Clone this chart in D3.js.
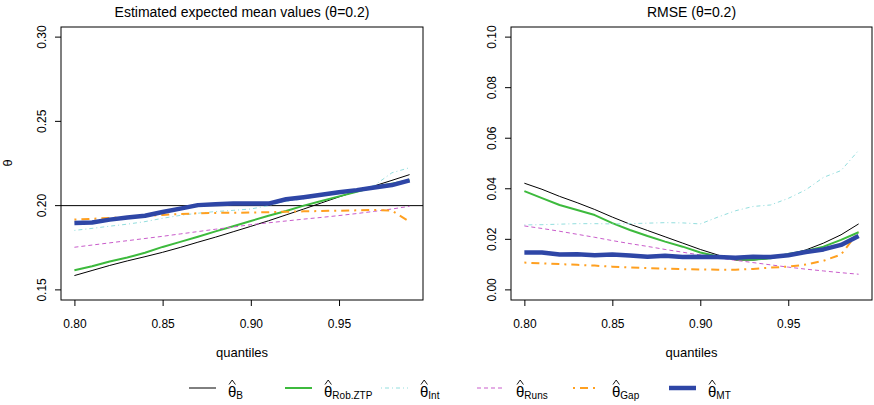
<!DOCTYPE html>
<html>
<head>
<meta charset="utf-8">
<script src="https://cdn.jsdelivr.net/npm/d3@7"></script>
<style>
	body { margin: 0; background: #fff; }
	text { font-family: "Liberation Sans", Arial, Helvetica, sans-serif; fill: #000; }
</style>
</head>
<body>
<div id="chart"></div>
<script>

var quantiles = [0.80, 0.81, 0.82, 0.83, 0.84, 0.85, 0.86, 0.87, 0.88, 0.89,
	0.90, 0.91, 0.92, 0.93, 0.94, 0.95, 0.96, 0.97, 0.98, 0.99];

var xTicks = [0.80, 0.85, 0.90, 0.95];
var meanTicks = [0.15, 0.20, 0.25, 0.30];
var rmseTicks = [0.00, 0.02, 0.04, 0.06, 0.08, 0.10];

// estimated expected mean values
var meanB = [0.1585, 0.1615, 0.1645, 0.1672, 0.1697, 0.1723, 0.1752, 0.1783, 0.1813, 0.1845,
	0.1877, 0.1910, 0.1945, 0.1980, 0.2016, 0.2052, 0.2085, 0.2117, 0.2150, 0.2184];
var meanRob = [0.1616, 0.1640, 0.1668, 0.1692, 0.1720, 0.1755, 0.1785, 0.1815, 0.1847, 0.1878,
	0.1909, 0.1940, 0.1968, 0.2000, 0.2028, 0.2055, 0.2082, 0.2110, 0.2130, 0.2150];
var meanInt = [0.1853, 0.1865, 0.1878, 0.1890, 0.1905, 0.1925, 0.1942, 0.1955, 0.1965, 0.1972,
	0.1980, 0.2000, 0.2025, 0.2040, 0.2058, 0.2072, 0.2090, 0.2120, 0.2195, 0.2225];
var meanRuns = [0.1753, 0.1766, 0.1779, 0.1792, 0.1805, 0.1818, 0.1832, 0.1846, 0.1860, 0.1873,
	0.1887, 0.1898, 0.1909, 0.1920, 0.1930, 0.1941, 0.1953, 0.1966, 0.1980, 0.1996];
var meanGap = [0.1917, 0.1922, 0.1927, 0.1932, 0.1938, 0.1945, 0.1950, 0.1955, 0.1957, 0.1958,
	0.1959, 0.1961, 0.1964, 0.1966, 0.1968, 0.1970, 0.1972, 0.1974, 0.1970, 0.1905];
var meanMT = [0.1897, 0.1900, 0.1917, 0.1930, 0.1940, 0.1962, 0.1982, 0.2003, 0.2008, 0.2012,
	0.2013, 0.2012, 0.2038, 0.2050, 0.2064, 0.2079, 0.2092, 0.2108, 0.2122, 0.2150];

// RMSE
var rmseB = [0.0422, 0.0398, 0.0370, 0.0345, 0.0318, 0.0288, 0.0260, 0.0235, 0.0210, 0.0185,
	0.0160, 0.0138, 0.0118, 0.0118, 0.0125, 0.0140, 0.0158, 0.0185, 0.0218, 0.0261];
var rmseRob = [0.0391, 0.0363, 0.0336, 0.0316, 0.0296, 0.0264, 0.0237, 0.0213, 0.0191, 0.0171,
	0.0148, 0.0132, 0.0121, 0.0119, 0.0125, 0.0142, 0.0154, 0.0171, 0.0198, 0.0228];
var rmseInt = [0.0257, 0.0258, 0.0260, 0.0262, 0.0262, 0.0261, 0.0262, 0.0264, 0.0266, 0.0265,
	0.0261, 0.0288, 0.0313, 0.0330, 0.0336, 0.0362, 0.0396, 0.0445, 0.0472, 0.0552];
var rmseRuns = [0.0253, 0.0243, 0.0232, 0.0220, 0.0208, 0.0195, 0.0183, 0.0172, 0.0160, 0.0149,
	0.0138, 0.0127, 0.0117, 0.0108, 0.0099, 0.0090, 0.0082, 0.0075, 0.0068, 0.0062];
var rmseGap = [0.0108, 0.0105, 0.0102, 0.0099, 0.0096, 0.0092, 0.0089, 0.0086, 0.0084, 0.0082,
	0.0081, 0.0080, 0.0080, 0.0083, 0.0088, 0.0092, 0.0100, 0.0115, 0.0140, 0.0230];
var rmseMT = [0.0148, 0.0148, 0.0140, 0.0141, 0.0137, 0.0140, 0.0136, 0.0131, 0.0135, 0.0130,
	0.0131, 0.0130, 0.0127, 0.0131, 0.0130, 0.0137, 0.0150, 0.0160, 0.0178, 0.0213];

var seriesNames = ["B", "Rob.ZTP", "Int", "Runs", "Gap", "MT"];

// line styles, in the same order as seriesNames
var styles = [
	{ color: "#000000", width: 1, dash: null },
	{ color: "#3dba3d", width: 2, dash: null },
	{ color: "#93dede", width: 1, dash: "1,3,4,3" },
	{ color: "#c95ccb", width: 1, dash: "4,3" },
	{ color: "#ffa020", width: 2, dash: "2,5,8,5" },
	{ color: "#2e46a6", width: 4.5, dash: null }
];

var width = 874, height = 405;

var svg = d3.select("#chart")
	.append("svg")
		.attr("width", width)
		.attr("height", height);

function drawPanel(opts) {
	var x = d3.scaleLinear().domain([0.7924, 0.9976]).range([opts.left, opts.right]);
	var y = d3.scaleLinear().domain(opts.yDomain).range([300, 27]);

	var g = svg.append("g");

	var clipId = "clip" + opts.left;
	g.append("clipPath").attr("id", clipId)
		.append("rect")
			.attr("x", opts.left).attr("y", 27)
			.attr("width", opts.right - opts.left).attr("height", 273);

	var xAxis = g.append("g")
		.attr("transform", "translate(0,300)")
		.call(d3.axisBottom(x).tickValues(xTicks).tickFormat(d3.format(".2f")).tickSize(6).tickSizeOuter(0));
	xAxis.select(".domain").remove();
	xAxis.selectAll("text").attr("font-size", 12).attr("dy", "1.55em")
		.style("font-family", "'Liberation Sans', Arial, sans-serif");

	var yAxis = g.append("g")
		.attr("transform", "translate(" + opts.left + ",0)")
		.call(d3.axisLeft(y).tickValues(opts.yTicks).tickFormat(d3.format(".2f")).tickSize(6).tickSizeOuter(0));
	yAxis.select(".domain").remove();
	yAxis.selectAll("text")
		.attr("font-size", 12)
		.attr("x", 0).attr("dy", 0)
		.attr("text-anchor", "middle")
		.attr("transform", d => "translate(-15," + y(d) + ") rotate(-90)")
		.attr("y", 0)
		.style("font-family", "'Liberation Sans', Arial, sans-serif");
	yAxis.selectAll(".tick").attr("transform", null);
	yAxis.selectAll(".tick line").attr("transform", d => "translate(0," + y(d) + ")");

	if (opts.refLine != null) {
		g.append("line")
			.attr("x1", opts.left).attr("x2", opts.right)
			.attr("y1", y(opts.refLine)).attr("y2", y(opts.refLine))
			.attr("stroke", "black").attr("stroke-width", 1);
	}

	var line = d3.line()
		.x((d, i) => x(quantiles[i]))
		.y(d => y(d));

	g.append("g")
		.attr("clip-path", "url(#" + clipId + ")")
		.selectAll("path")
		.data(opts.series)
		.enter()
			.append("path")
			.attr("d", d => line(d))
			.attr("fill", "none")
			.attr("stroke", (d, i) => styles[i].color)
			.attr("stroke-width", (d, i) => styles[i].width)
			.attr("stroke-dasharray", (d, i) => styles[i].dash)
			.attr("stroke-linejoin", "round");

	g.append("rect")
		.attr("x", opts.left).attr("y", 27)
		.attr("width", opts.right - opts.left).attr("height", 273)
		.attr("fill", "none").attr("stroke", "black").attr("stroke-width", 1);

	g.append("text")
		.attr("x", (opts.left + opts.right) / 2).attr("y", 17)
		.attr("text-anchor", "middle").attr("font-size", 14)
		.text(opts.title);

	g.append("text")
		.attr("x", (opts.left + opts.right) / 2).attr("y", 357)
		.attr("text-anchor", "middle").attr("font-size", 13)
		.text("quantiles");
}

drawPanel({
	left: 61, right: 423,
	yDomain: [0.144, 0.306],
	yTicks: meanTicks,
	refLine: 0.20,
	title: "Estimated expected mean values (\u03b8=0.2)",
	series: [meanB, meanRob, meanInt, meanRuns, meanGap, meanMT]
});

drawPanel({
	left: 511, right: 872,
	yDomain: [-0.004, 0.104],
	yTicks: rmseTicks,
	refLine: null,
	title: "RMSE (\u03b8=0.2)",
	series: [rmseB, rmseRob, rmseInt, rmseRuns, rmseGap, rmseMT]
});

// y axis title
svg.append("text")
	.attr("transform", "translate(12,163) rotate(-90)")
	.attr("text-anchor", "middle").attr("font-size", 13)
	.text("\u03b8");

// legend
var legend = svg.append("g");
var legendX = d3.scalePoint().domain(seriesNames).range([189, 669]);

var items = legend.selectAll("g")
	.data(seriesNames)
	.enter()
		.append("g")
		.attr("transform", d => "translate(" + legendX(d) + ",388)");

items.append("line")
	.attr("x1", 0).attr("x2", 27)
	.attr("y1", 0).attr("y2", 0)
	.attr("stroke", (d, i) => styles[i].color)
	.attr("stroke-width", (d, i) => styles[i].width)
	.attr("stroke-dasharray", (d, i) => styles[i].dash);

// the hat over theta
items.append("path")
	.attr("d", "M40,-3.5L43.2,-8L46.4,-3.5")
	.attr("fill", "none")
	.attr("stroke", "black")
	.attr("stroke-width", 0.9);

var label = items.append("text")
	.attr("x", 39).attr("y", 9)
	.attr("font-size", 15);
label.append("tspan").text("\u03b8");
label.append("tspan").attr("font-size", 10).attr("dy", 2).text(d => d);

</script>
</body>
</html>
